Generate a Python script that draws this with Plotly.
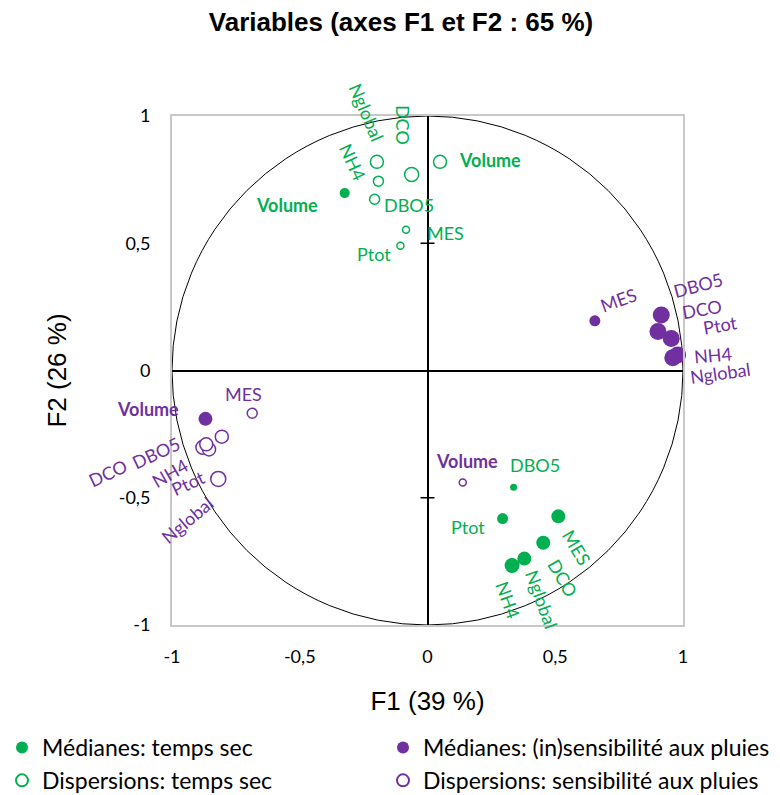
import plotly.graph_objects as go

# ---------------- data ----------------
variables = ["Volume", "DBO5", "DCO", "MES", "NH4", "Nglobal", "Ptot"]

# Médianes : temps sec (filled green)
med_sec_x = [-0.324, 0.337, 0.453, 0.512, 0.331, 0.379, 0.294]
med_sec_y = [0.697, -0.459, -0.677, -0.573, -0.766, -0.739, -0.582]
med_sec_s = [10, 7, 14, 14, 15, 14, 11]

# Dispersions : temps sec (open green)
disp_sec_x = [0.049, -0.207, -0.062, -0.084, -0.192, -0.198, -0.106]
disp_sec_y = [0.820, 0.673, 0.770, 0.553, 0.744, 0.820, 0.490]
disp_sec_s = [13, 10, 14, 7, 10, 13, 7]

# Médianes : (in)sensibilité aux pluies (filled purple)
med_pl_x = [-0.869, 0.915, 0.902, 0.655, 0.979, 0.960, 0.954]
med_pl_y = [-0.190, 0.218, 0.153, 0.195, 0.061, 0.050, 0.126]
med_pl_s = [14, 17, 17, 11, 17, 17, 17]

# Dispersions : sensibilité aux pluies (open purple)
disp_pl_x = [0.138, -0.805, -0.879, -0.686, -0.855, -0.819, -0.866]
disp_pl_y = [-0.440, -0.260, -0.302, -0.168, -0.310, -0.426, -0.290]
disp_pl_s = [7, 13, 14, 10, 13, 15, 13]

tick_vals = [-1, -0.5, 0, 0.5, 1]
tick_text = ["-1", "-0,5", "0", "0,5", "1"]

# label placement: (x, y, angle) per variable, same order as `variables` (F1/F2 units)
lab_med_sec = [(-0.55, 0.65, 0), (0.421, -0.371, 0), (0.530, -0.815, 60), (0.585, -0.697, 60),
               (0.315, -0.902, 70), (0.448, -0.902, 70), (0.159, -0.615, 0)]
lab_disp_sec = [(0.245, 0.828, 0), (-0.072, 0.65, 0), (-0.096, 0.965, 90), (0.072, 0.54, 0),
                (-0.292, 0.82, 65), (-0.237, 1.012, 67), (-0.209, 0.458, 0)]
lab_med_pl = [(-1.094, -0.151, 0), (1.059, 0.336, -15), (1.074, 0.242, -10), (0.746, 0.277, -20),
              (1.117, 0.061, -5), (1.145, -0.010, -8), (1.145, 0.179, -10)]
lab_disp_pl = [(0.155, -0.356, 0), (-1.063, -0.324, -25), (-1.251, -0.403, -25), (-0.722, -0.092, 0),
               (-1.008, -0.403, -30), (-0.941, -0.587, -40), (-0.937, -0.442, -25)]

GREEN = "#00B050"
PURPLE = "#7030A0"
FONT = "Lato"
AX_RANGE = [-1, 1]

# the page body adds an 8px offset; the figure is sized to fit the window
W, H = 772, 787
ML, MT, MR, MB = 164, 108, 97, 170
PH = H - MT - MB

fig = go.Figure()

def add(name, xs, ys, ss, color, filled, legend, group):
    fig.add_trace(go.Scatter(
        x=xs, y=ys, mode="markers", name=name, legend=legend, legendgroup=group,
        text=variables,
        marker=dict(size=ss, opacity=1, color=color if filled else "white",
                    line=dict(color=color, width=0 if filled else 1.5)),
        cliponaxis=False,
    ))

add("Médianes: temps sec", med_sec_x, med_sec_y, med_sec_s, GREEN, True, "legend", "a")
add("Dispersions: temps sec", disp_sec_x, disp_sec_y, disp_sec_s, GREEN, False, "legend", "b")
add("Médianes: (in)sensibilité aux pluies", med_pl_x, med_pl_y, med_pl_s, PURPLE, True, "legend2", "c")
add("Dispersions: sensibilité aux pluies", disp_pl_x, disp_pl_y, disp_pl_s, PURPLE, False, "legend2", "d")

def to_paper(v):
    return (v - AX_RANGE[0]) / (AX_RANGE[1] - AX_RANGE[0])

annotations = []
for labs, color in [(lab_med_sec, GREEN), (lab_disp_sec, GREEN), (lab_med_pl, PURPLE), (lab_disp_pl, PURPLE)]:
    for name, (lx, ly, ang) in zip(variables, labs):
        bold = name == "Volume"
        txt = "<b>%s</b>" % name if bold else name
        annotations.append(dict(x=to_paper(lx), y=to_paper(ly), xref="paper", yref="paper",
                                xanchor="center", yanchor="middle",
                                text=txt, showarrow=False, textangle=ang,
                                font=dict(family=FONT, size=18, color=color)))

shapes = [dict(type="circle", xref="x", yref="y", x0=-1, y0=-1, x1=1, y1=1,
               line=dict(color="black", width=1), layer="below")]
for v in tick_vals:
    if v not in (0, -1, 1):
        shapes.append(dict(type="line", xref="x", yref="y", xsizemode="pixel", xanchor=0,
                           x0=-7, x1=7, y0=v, y1=v, line=dict(color="black", width=1.5)))

axis_common = dict(range=AX_RANGE, tickvals=tick_vals, ticktext=tick_text, showgrid=False,
                   zeroline=True, zerolinecolor="black", zerolinewidth=1.5,
                   showline=True, mirror=True, linecolor="#C8C8C8", linewidth=2,
                   ticks="", tickfont=dict(family=FONT, size=18, color="black"),
                   fixedrange=True, automargin=False)

legend_common = dict(xanchor="left", yanchor="top", font=dict(family=FONT, size=23, color="black"),
                     tracegroupgap=0, bgcolor="rgba(0,0,0,0)", itemsizing="constant")

leg_top = 718
fig.update_layout(
    width=W, height=H,
    margin=dict(l=ML, r=MR, t=MT, b=MB, autoexpand=False),
    plot_bgcolor="white", paper_bgcolor="white",
    title=dict(text="<b>Variables (axes F1 et F2 : 65 %)</b>", xref="container", yref="container",
               x=393 / W, xanchor="center", y=1 - 14 / H, yanchor="middle",
               font=dict(family="Liberation Sans", size=26, color="black")),
    xaxis=dict(**axis_common, ticklabelstandoff=14,
               title=dict(text="F1 (39 %)", standoff=26,
                          font=dict(family="Liberation Sans", size=26, color="black"))),
    yaxis=dict(**axis_common, ticklabelstandoff=16,
               title=dict(text="F2 (26 %)", standoff=45,
                          font=dict(family="Liberation Sans", size=26, color="black"))),
    annotations=annotations,
    shapes=shapes,
    showlegend=True,
    legend=dict(**legend_common, x=(-6 - ML) / 511, y=(MT + PH - leg_top) / PH),
    legend2=dict(**legend_common, x=(375 - ML) / 511, y=(MT + PH - leg_top) / PH),
)

fig.write_html("out.html")
